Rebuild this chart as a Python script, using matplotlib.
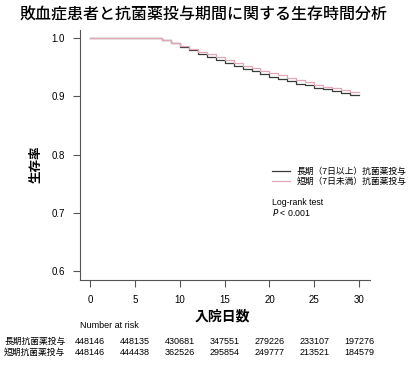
import matplotlib.pyplot as plt
import matplotlib.transforms as mtransforms

plt.rcParams['font.family'] = ['Liberation Sans', 'Noto Sans CJK JP']

# データ
days = list(range(0, 31))
surv_long = [1.0] * 8 + [0.9965, 0.991, 0.985, 0.979, 0.973, 0.968, 0.962, 0.957,
                         0.952, 0.947, 0.943, 0.938, 0.934, 0.930, 0.926, 0.922,
                         0.919, 0.915, 0.912, 0.909, 0.906, 0.903, 0.903]
surv_short = [1.0] * 8 + [0.997, 0.992, 0.987, 0.982, 0.977, 0.972, 0.967, 0.962,
                          0.957, 0.952, 0.948, 0.944, 0.940, 0.936, 0.932, 0.928,
                          0.924, 0.920, 0.917, 0.914, 0.911, 0.908, 0.908]
labels = ['長期（7日以上）抗菌薬投与', '短期（7日未満）抗菌薬投与']
risk_days = [0, 5, 10, 15, 20, 25, 30]
risk_long = [448146, 448135, 430681, 347551, 279226, 233107, 197276]
risk_short = [448146, 444438, 362526, 295854, 249777, 213521, 184579]
risk_names = ['長期抗菌薬投与', '短期抗菌薬投与']
colors = ['#3a3a3a', '#e3a7b6']

fig = plt.figure(figsize=(4.08, 3.66), dpi=100)
ax = fig.add_axes([0.196, 0.235, 0.711, 0.683])

ax.step(days, surv_long, where='post', color=colors[0], lw=0.9)
ax.step(days, surv_short, where='post', color=colors[1], lw=0.9)

ax.set_xlim(-1.1, 31.2)
ax.set_ylim(0.585, 1.014)
ax.set_xticks(risk_days)
ax.set_yticks([0.6, 0.7, 0.8, 0.9, 1.0])
ax.set_yticklabels(['0.6', '0.7', '0.8', '0.9', '1.0'])
for s in ['top', 'right']:
    ax.spines[s].set_visible(False)
for s in ['left', 'bottom']:
    ax.spines[s].set_color('#555555')
    ax.spines[s].set_linewidth(0.8)
ax.tick_params(direction='out', length=5, width=0.8, color='#555555',
               labelsize=7, pad=6)

fig.text(0.5, 0.958, '敗血症患者と抗菌薬投与期間に関する生存時間分析',
         ha='center', va='center', fontsize=11.5, fontweight='medium')
fig.text(0.091, 0.55, '生存率', rotation=90, ha='center', va='center',
         fontsize=9, fontweight='bold')
fig.text(0.545, 0.134, '入院日数', ha='center', va='center',
         fontsize=10, fontweight='bold')

# 凡例（手動）
for i, (lab, c) in enumerate(zip(labels, colors)):
    y = 0.772 - i * 0.017
    ax.plot([20.3, 22.3], [y, y], color=c, lw=0.9, clip_on=False)
    ax.text(23.0, y, lab, fontsize=6.3, ha='left', va='center', clip_on=False)
ax.text(20.3, 0.718, 'Log-rank test', fontsize=6.3, ha='left', va='center')
ax.text(20.3, 0.701, '$P$ < 0.001', fontsize=6.3, ha='left', va='center')

# Number at risk テーブル
fig.text(0.196, 0.112, 'Number at risk', fontsize=6.5, ha='left', va='center')
trans = mtransforms.blended_transform_factory(ax.transData, fig.transFigure)
for i, (name, row) in enumerate(zip(risk_names, [risk_long, risk_short])):
    y = 0.068 - i * 0.03
    fig.text(0.01, y, name, fontsize=6.3, ha='left', va='center')
    for d, n in zip(risk_days, row):
        ax.text(d, y, str(n), transform=trans, fontsize=6.5,
                ha='center', va='center', clip_on=False)

fig.savefig('out.png', dpi=100)
